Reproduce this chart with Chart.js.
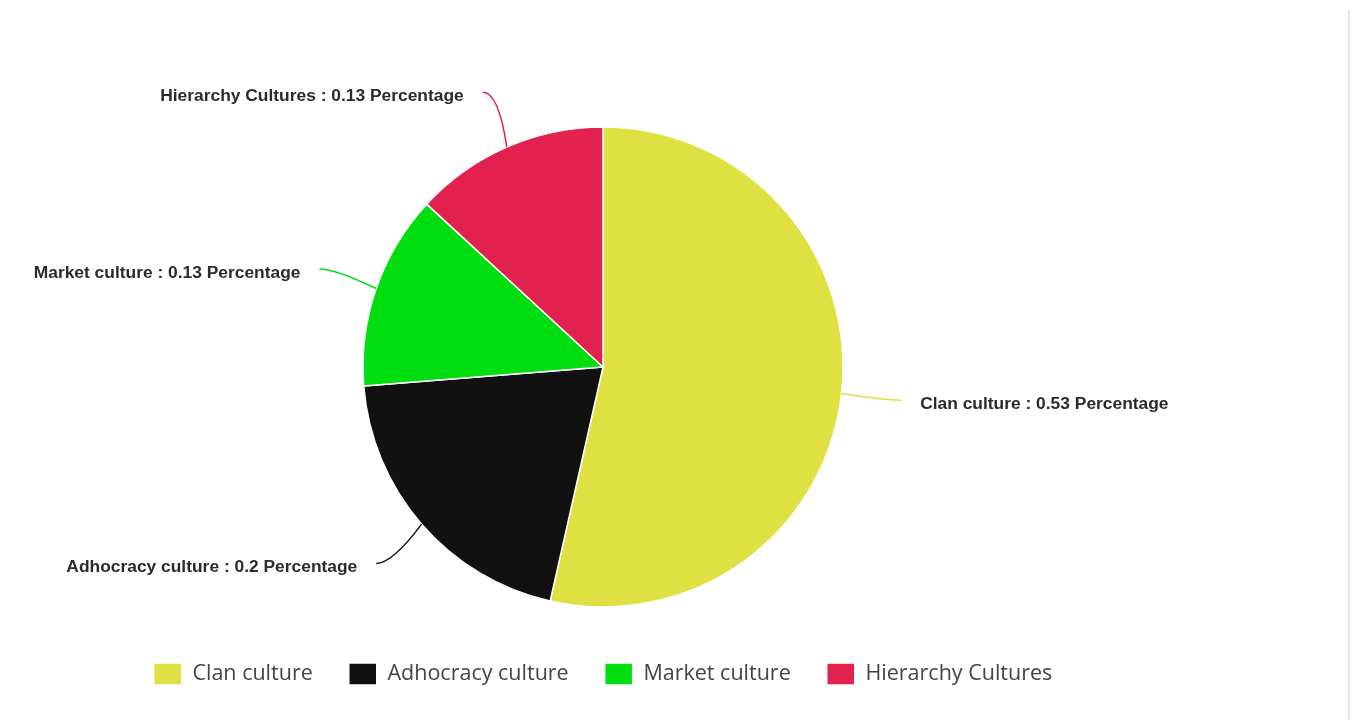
<!DOCTYPE html>
<html>
<head>
<meta charset="utf-8">
<script src="https://cdn.jsdelivr.net/npm/chart.js@4/dist/chart.umd.min.js"></script>
<style>
  html, body { margin: 0; padding: 0; background: #fff; }
  #wrap { position: relative; width: 1356px; height: 720px; }
  #edge { position: absolute; left: 1348px; top: 10px; width: 2px; height: 710px; background: #e6e6e6; }
</style>
</head>
<body>
<div id="wrap">
  <canvas id="cultureChart"></canvas>
  <div id="edge"></div>
</div>
<script>
const cultures = ["Clan culture", "Adhocracy culture", "Market culture", "Hierarchy Cultures"]
const shares = [0.53, 0.2, 0.13, 0.13]
const sliceColors = ["#dfe042", "#111111", "#00dd11", "#e2214e"]

// labels outside the pie with a curved connector back to each slice
const outsideLabels = {
    id: 'outsideLabels',
    afterDatasetsDraw(chart) {
        const c = chart.ctx
        const meta = chart.getDatasetMeta(0)
        c.save()
        c.font = "bold 17.4px 'Liberation Sans', Arial, sans-serif"
        c.textBaseline = 'middle'
        c.fillStyle = '#2b2b2b'
        meta.data.forEach((arc, i) => {
            const p = arc.getProps(['x', 'y', 'startAngle', 'endAngle', 'outerRadius'], true)
            const mid = (p.startAngle + p.endAngle) / 2
            const cos = Math.cos(mid), sin = Math.sin(mid)
            const ex = p.x + cos * p.outerRadius
            const ey = p.y + sin * p.outerRadius
            const ax = p.x + cos * (p.outerRadius + 60)
            const ay = p.y + sin * (p.outerRadius + 60)
            const side = cos >= 0 ? 1 : -1

            c.beginPath()
            c.strokeStyle = sliceColors[i]
            c.lineWidth = 1.5
            c.moveTo(ax, ay)
            c.quadraticCurveTo(ax - side * 16, ay, ex, ey)
            c.stroke()

            c.textAlign = side > 0 ? 'left' : 'right'
            c.fillText(cultures[i] + ' : ' + shares[i] + ' Percentage', ax + side * 19, ay + 4)
        })
        c.restore()
    }
}

new Chart(document.getElementById('cultureChart'), {
    type: 'pie',
    data: {
        labels: cultures,
        datasets: [{
            data: shares,
            backgroundColor: sliceColors,
            borderColor: '#ffffff',
            borderWidth: 1.5
        }]
    },
    options: {
        responsive: true,
        maintainAspectRatio: false,
        animation: false,
        radius: 240,
        layout: {
            padding: { top: 107, bottom: 25, left: 0, right: 150 }
        },
        plugins: {
            tooltip: { enabled: false },
            legend: {
                position: 'bottom',
                labels: {
                    boxWidth: 28,
                    boxHeight: 22,
                    padding: 36,
                    color: '#444',
                    font: { family: "'Open Sans', sans-serif", size: 21.5 }
                }
            }
        }
    },
    plugins: [outsideLabels]
});
</script>
</body>
</html>
